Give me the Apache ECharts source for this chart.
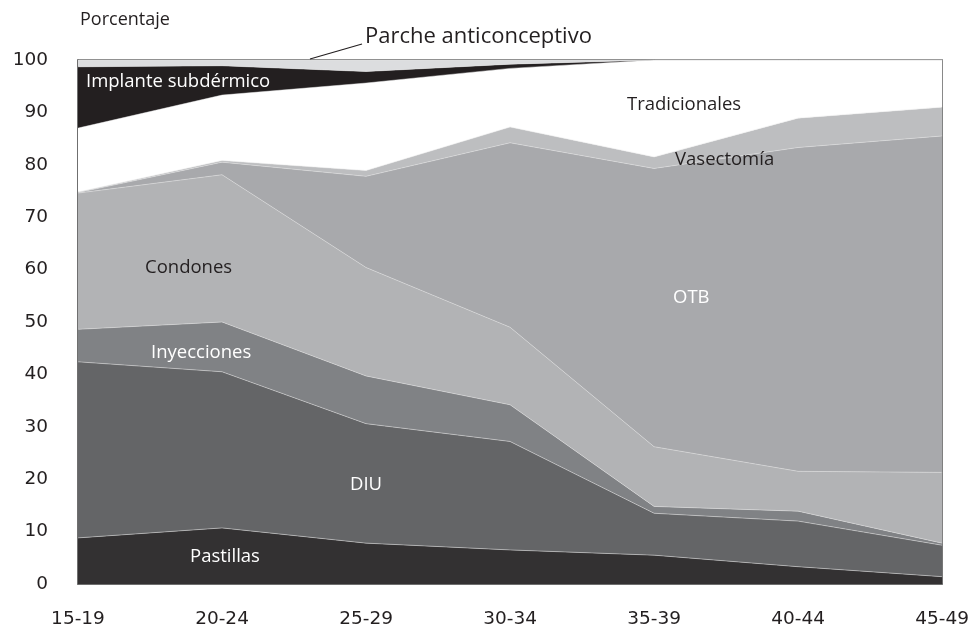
<!DOCTYPE html>
<html>
<head>
<meta charset="utf-8">
<script src="https://cdn.jsdelivr.net/npm/echarts@6/dist/echarts.min.js"></script>
<style>
  html, body { margin: 0; padding: 0; background: #fff; }
  #chart { width: 972px; height: 629px; }
</style>
</head>
<body>
<div id="chart"></div>
<script>
// grupos de edad
const grupos = ["15-19", "20-24", "25-29", "30-34", "35-39", "40-44", "45-49"];
const yTicks = [0, 10, 20, 30, 40, 50, 60, 70, 80, 90, 100];

// porcentaje por método (apilado de abajo hacia arriba)
const pastillas = [8.8, 10.7, 7.8, 6.5, 5.5, 3.3, 1.4];
const diu = [33.6, 29.8, 22.8, 20.7, 8.0, 8.7, 6.0];
const inyecciones = [6.2, 9.5, 9.1, 7.0, 1.3, 1.9, 0.4];
const condones = [26.0, 28.1, 20.7, 14.8, 11.4, 7.6, 13.5];
const otb = [0.1, 2.4, 17.4, 35.2, 53.1, 61.8, 64.2];
const vasectomia = [0.1, 0.3, 1.1, 3.0, 2.2, 5.6, 5.5];
const tradicionales = [12.2, 12.5, 16.7, 11.2, 18.5, 11.1, 9.0];
const implante = [11.7, 5.6, 2.2, 0.8, 0, 0, 0];
const parche = [1.3, 1.1, 2.2, 0.8, 0, 0, 0];

const FONT = "'Open Sans', 'Noto Sans', sans-serif";
const AXIS_FONT = "'DejaVu Sans', sans-serif";
const chart = echarts.init(document.getElementById("chart"), null, { renderer: "canvas" });

function capa(nombre, datos, color) {
  return {
    name: nombre,
    type: "line",
    stack: "total",
    data: datos,
    symbol: "none",
    smooth: false,
    lineStyle: { width: 0.6, color: "rgba(230,230,230,0.8)" },
    areaStyle: { color: color, opacity: 1 },
    silent: true,
  };
}

// texto centrado verticalmente en y
function etiqueta(texto, x, y, color, size) {
  return {
    type: "text",
    x: x,
    y: y,
    style: {
      text: texto,
      fill: color,
      font: (size || 18.5) + "px " + FONT,
      align: "left",
      verticalAlign: "middle",
    },
    z: 100,
  };
}

chart.setOption({
  animation: false,
  grid: {
    left: 78, right: 24, top: 60, bottom: 43,
    show: true, borderColor: "#666", borderWidth: 1.5, backgroundColor: "transparent",
  },
  xAxis: {
    type: "category",
    data: grupos,
    boundaryGap: false,
    axisLine: { show: true, lineStyle: { color: "#666", width: 1.5 } },
    axisTick: { show: false },
    axisLabel: { fontSize: 18.5, color: "#231f20", fontFamily: AXIS_FONT, margin: 26 },
    splitLine: { show: false },
  },
  yAxis: {
    type: "value",
    min: 0,
    max: 100,
    interval: 10,
    axisLine: { show: true, lineStyle: { color: "#666", width: 1.5 } },
    axisTick: { show: false },
    axisLabel: {
      fontSize: 18.5, color: "#231f20", fontFamily: AXIS_FONT, margin: 30,
      formatter: (v) => (yTicks.includes(v) ? String(v) : ""),
    },
    splitLine: { show: false },
  },
  series: [
    capa("Pastillas", pastillas, "#333132"),
    capa("DIU", diu, "#646567"),
    capa("Inyecciones", inyecciones, "#808285"),
    capa("Condones", condones, "#b2b3b5"),
    capa("OTB", otb, "#a8a9ac"),
    capa("Vasectomía", vasectomia, "#bdbec0"),
    capa("Tradicionales", tradicionales, "#ffffff"),
    capa("Implante subdérmico", implante, "#231f20"),
    capa("Parche anticonceptivo", parche, "#dcdddf"),
  ],
  graphic: [
    etiqueta("Porcentaje", 80, 20, "#231f20", 18),
    etiqueta("Parche anticonceptivo", 365, 37, "#231f20", 22),
    {
      type: "line",
      shape: { x1: 310, y1: 59, x2: 362, y2: 44 },
      style: { stroke: "#231f20", lineWidth: 1.2 },
      z: 100,
    },
    etiqueta("Implante subdérmico", 86, 82, "#ffffff"),
    etiqueta("Tradicionales", 627, 105, "#231f20"),
    etiqueta("Vasectomía", 675, 160, "#231f20"),
    etiqueta("Condones", 145, 268, "#231f20"),
    etiqueta("OTB", 673, 298, "#ffffff"),
    etiqueta("Inyecciones", 151, 353, "#ffffff"),
    etiqueta("DIU", 350, 485, "#ffffff"),
    etiqueta("Pastillas", 190, 557, "#ffffff"),
  ],
});

window.addEventListener("resize", () => chart.resize());
</script>
</body>
</html>
